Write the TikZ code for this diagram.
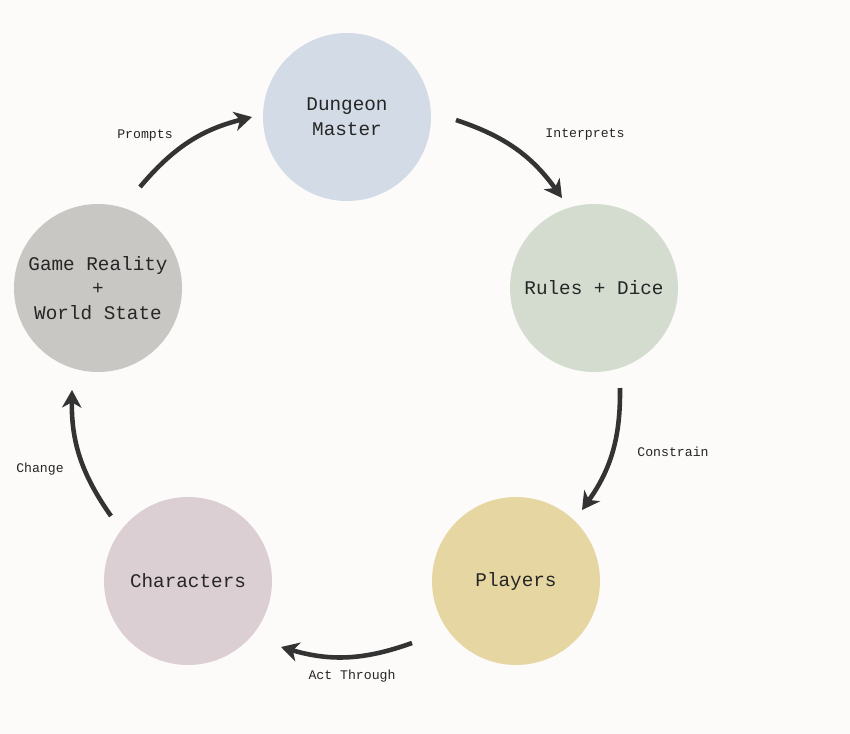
\documentclass[tikz,border=0pt]{standalone}
\usepackage{fontspec}
\setmonofont{Liberation Mono}
\usetikzlibrary{arrows.meta}
\definecolor{bgc}{HTML}{FCFBF9}
\definecolor{dmc}{HTML}{D3DCE6}
\definecolor{rdc}{HTML}{D4DCD0}
\definecolor{plc}{HTML}{E6D7A2}
\definecolor{chc}{HTML}{DCCFD3}
\definecolor{grc}{HTML}{C9C7C3}
\definecolor{arc}{HTML}{333333}
\tikzset{
  stage/.style={circle, minimum size=168*0.02cm, inner sep=0pt, align=center, font=\ttfamily\fontsize{11}{14}\selectfont, text=black!85},
  flow/.style={-{Stealth[length=10pt,width=11pt,inset=3pt]}, line width=2.6pt, draw=arc},
  lbl/.style={font=\ttfamily\fontsize{7.5}{9}\selectfont, text=black!85}
}
\begin{document}
\begin{tikzpicture}[x=0.02cm,y=-0.02cm]
\fill[bgc] (0,0) rectangle (850,734);

\node(dm)[stage, fill=dmc] at (347,117) {Dungeon\\Master};
\node(rd)[stage, fill=rdc] at (594,288) {Rules + Dice};
\node(pl)[stage, fill=plc] at (516,581) {Players};
\node(ch)[stage, fill=chc] at (188,581) {Characters};
\node(gr)[stage, fill=grc] at (98,288) {Game Reality\\+\\World State};

\coordinate(p1) at (140,187); \coordinate(p2) at (252,117);
\coordinate(i1) at (456,120); \coordinate(i2) at (562,198);
\coordinate(c1) at (620,388); \coordinate(c2) at (582,510);
\coordinate(a1) at (412,643); \coordinate(a2) at (281,647);
\coordinate(g1) at (111,516); \coordinate(g2) at (72,390);

\draw[flow] (p1) to[bend left=18] (p2);
\draw[flow] (i1) to[bend left=18] (i2);
\draw[flow] (c1) to[bend left=18] (c2);
\draw[flow] (a1) to[bend left=18] (a2);
\draw[flow] (g1) to[bend left=18] (g2);

\node(lp)[lbl] at (145,135) {Prompts};
\node(li)[lbl] at (585,134) {Interprets};
\node(lc)[lbl] at (673,452) {Constrain};
\node(la)[lbl] at (352,676) {Act Through};
\node(lg)[lbl] at (40,469) {Change};
\end{tikzpicture}
\end{document}
